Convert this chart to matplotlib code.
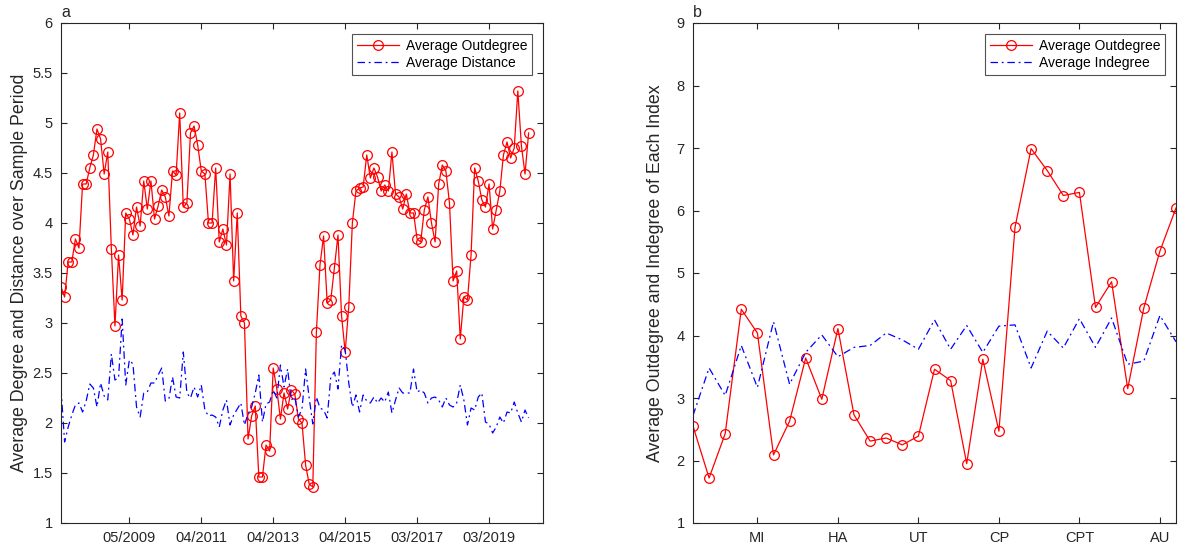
"""
Average outdegree / distance over the sample period (a)
and average outdegree / indegree of each index (b).
"""

import numpy as np
import matplotlib.pyplot as plt

plt.rcParams["font.family"] = ["Liberation Sans", "DejaVu Sans"]

# -------------------------------
# Data, panel a
# -------------------------------
avg_outdegree_a = [
    3.36, 3.26, 3.61, 3.61, 3.84, 3.75, 4.39, 4.39, 4.55, 4.68,
    4.94, 4.84, 4.49, 4.71, 3.74, 2.97, 3.68, 3.23, 4.10, 4.04,
    3.88, 4.16, 3.97, 4.42, 4.14, 4.42, 4.04, 4.17, 4.33, 4.26,
    4.07, 4.52, 4.48, 5.10, 4.16, 4.20, 4.90, 4.97, 4.78, 4.52,
    4.49, 4.00, 4.00, 4.55, 3.81, 3.94, 3.78, 4.49, 3.42, 4.10,
    3.07, 3.00, 1.84, 2.07, 2.17, 1.46, 1.46, 1.78, 1.72, 2.55,
    2.34, 2.04, 2.30, 2.14, 2.33, 2.29, 2.04, 2.00, 1.58, 1.39,
    1.36, 2.91, 3.58, 3.87, 3.20, 3.23, 3.55, 3.88, 3.07, 2.71,
    3.16, 4.00, 4.32, 4.35, 4.36, 4.68, 4.45, 4.55, 4.46, 4.32,
    4.38, 4.32, 4.71, 4.29, 4.26, 4.14, 4.29, 4.10, 4.10, 3.84,
    3.81, 4.13, 4.26, 4.00, 3.81, 4.39, 4.58, 4.52, 4.20, 3.42,
    3.52, 2.84, 3.26, 3.23, 3.68, 4.55, 4.42, 4.23, 4.16, 4.39,
    3.94, 4.13, 4.32, 4.68, 4.81, 4.65, 4.75, 5.32, 4.77, 4.49,
    4.90,
]

avg_distance = [
    2.35, 1.81, 1.96, 2.08, 2.18, 2.20, 2.11, 2.22, 2.39, 2.35,
    2.16, 2.40, 2.27, 2.23, 2.69, 2.43, 2.45, 3.04, 2.38, 2.63,
    2.59, 2.16, 2.06, 2.30, 2.31, 2.40, 2.40, 2.48, 2.55, 2.22,
    2.24, 2.46, 2.26, 2.25, 2.71, 2.30, 2.25, 2.36, 2.26, 2.38,
    2.13, 2.07, 2.08, 2.06, 1.96, 2.13, 2.23, 1.98, 2.08, 2.14,
    2.20, 1.98, 2.09, 2.16, 2.30, 2.48, 2.01, 2.19, 2.21, 2.33,
    2.25, 2.58, 2.36, 2.54, 2.23, 2.26, 2.06, 2.14, 2.54, 2.25,
    1.99, 2.26, 2.15, 2.13, 2.05, 2.46, 2.51, 2.34, 2.78, 2.73,
    2.40, 2.16, 2.28, 2.11, 2.28, 2.22, 2.20, 2.26, 2.20, 2.25,
    2.21, 2.31, 2.10, 2.23, 2.35, 2.30, 2.30, 2.30, 2.54, 2.31,
    2.33, 2.30, 2.20, 2.25, 2.26, 2.23, 2.16, 2.25, 2.18, 2.16,
    2.20, 2.38, 2.23, 1.98, 2.15, 2.13, 2.26, 2.30, 2.01, 1.99,
    1.90, 1.96, 2.06, 2.00, 2.11, 2.10, 2.21, 2.10, 2.01, 2.13,
    2.05,
]

date_ticks = [20, 40, 60, 80, 100, 120]
date_labels = ["05/2009", "04/2011", "04/2013", "04/2015", "03/2017", "03/2019"]

# -------------------------------
# Data, panel b
# -------------------------------
avg_outdegree_b = [
    2.55, 1.72, 2.43, 4.42, 4.04, 2.09, 2.63, 3.64, 2.98, 4.11,
    2.73, 2.31, 2.36, 2.25, 2.39, 3.46, 3.28, 1.95, 3.62, 2.47,
    5.73, 6.99, 6.64, 6.24, 6.29, 4.45, 4.86, 3.15, 4.44, 5.35,
    6.04,
]

avg_indegree = [
    2.72, 3.48, 3.04, 3.84, 3.17, 4.22, 3.22, 3.73, 4.01, 3.66,
    3.81, 3.84, 4.04, 3.93, 3.78, 4.25, 3.78, 4.16, 3.73, 4.15,
    4.17, 3.48, 4.07, 3.80, 4.27, 3.81, 4.28, 3.54, 3.59, 4.32,
    3.90,
]

index_ticks = [5, 10, 15, 20, 25, 30]
index_labels = ["MI", "HA", "UT", "CP", "CPT", "AU"]

# -------------------------------
# Figure
# -------------------------------
fig = plt.figure(figsize=(11.86, 5.5), dpi=100)
ax_a = fig.add_axes([61 / 1186, 27 / 550, 482 / 1186, 500 / 550])
ax_b = fig.add_axes([693 / 1186, 27 / 550, 483 / 1186, 500 / 550])

dashdot = (0, (6, 3, 1.5, 3))
axis_color = "#262626"


def style_axes(ax):
    for side in ax.spines.values():
        side.set_color(axis_color)
        side.set_linewidth(0.8)
    ax.tick_params(
        direction="in", length=4, width=0.8, colors=axis_color,
        top=True, right=True, labelsize=10.5, pad=6,
    )


# Panel a
x_a = np.arange(1, len(avg_outdegree_a) + 1)
ax_a.plot(x_a, avg_outdegree_a, color="red", linewidth=0.9, marker="o",
          markersize=7, markerfacecolor="none", markeredgewidth=0.9,
          label="Average Outdegree")
ax_a.plot(x_a, avg_distance, color="blue", linewidth=0.9, linestyle=dashdot,
          label="Average Distance")

ax_a.set_xlim(1, 135)
ax_a.set_ylim(1, 6)
ax_a.set_xticks(date_ticks)
ax_a.set_xticklabels(date_labels)
ax_a.set_yticks(np.arange(1, 6.01, 0.5))
ax_a.set_yticklabels(["1", "1.5", "2", "2.5", "3", "3.5", "4", "4.5", "5", "5.5", "6"])
ax_a.set_ylabel("Average Degree and Distance over Sample Period",
                fontsize=12.8, color=axis_color, labelpad=3)
style_axes(ax_a)
ax_a.text(0.0, 1.006, "a", transform=ax_a.transAxes, fontsize=11.5,
          color=axis_color, va="bottom", ha="left")

# Panel b
x_b = np.arange(1, len(avg_outdegree_b) + 1)
ax_b.plot(x_b, avg_outdegree_b, color="red", linewidth=0.9, marker="o",
          markersize=7, markerfacecolor="none", markeredgewidth=0.9,
          label="Average Outdegree")
ax_b.plot(x_b, avg_indegree, color="blue", linewidth=0.9, linestyle=dashdot,
          label="Average Indegree")

ax_b.set_xlim(1, 31)
ax_b.set_ylim(1, 9)
ax_b.set_xticks(index_ticks)
ax_b.set_xticklabels(index_labels)
ax_b.set_yticks(np.arange(1, 10, 1))
ax_b.set_ylabel("Average Outdegree and Indegree of Each Index",
                fontsize=12.8, color=axis_color, labelpad=9)
style_axes(ax_b)
ax_b.text(0.0, 1.006, "b", transform=ax_b.transAxes, fontsize=11.5,
          color=axis_color, va="bottom", ha="left")

# Legends
for ax in (ax_a, ax_b):
    leg = ax.legend(loc="upper right", fontsize=10, frameon=True,
                    fancybox=False, borderpad=0.35, handlelength=3.0,
                    handletextpad=0.5, labelspacing=0.2,
                    borderaxespad=0.8)
    leg.get_frame().set_edgecolor(axis_color)
    leg.get_frame().set_linewidth(0.8)

fig.savefig("out.png", dpi=100)
